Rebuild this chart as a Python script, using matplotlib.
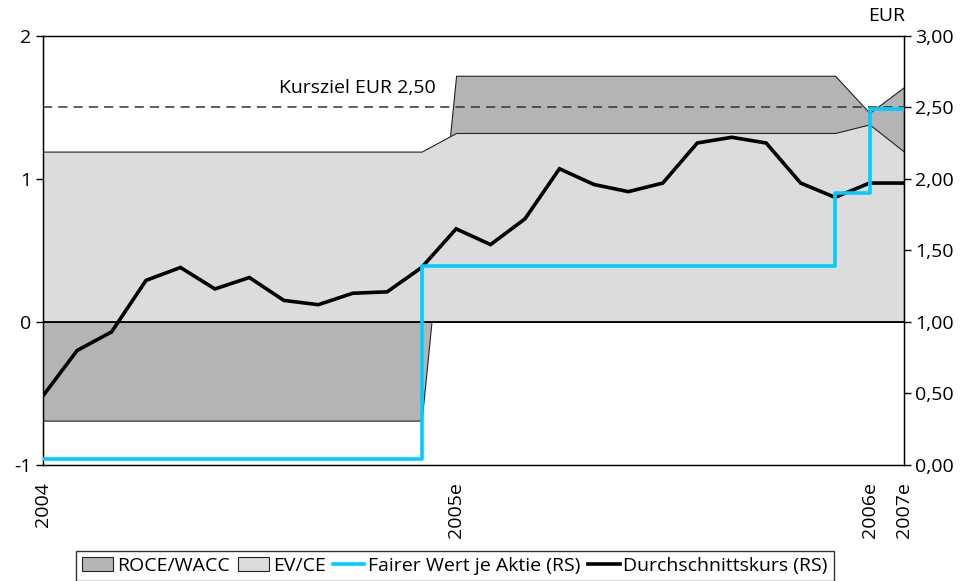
import numpy as np
import matplotlib
matplotlib.use("Agg")
import matplotlib.pyplot as plt
from matplotlib.patches import Patch
from matplotlib.lines import Line2D

plt.rcParams['font.family'] = ['Open Sans', 'DejaVu Sans']

# 26 categories: monthly 2004-2005, then yearly estimates
x_tick_pos = [0, 12, 24, 25]
x_tick_labels = ["2004", "2005e", "2006e", "2007e"]

# left scale
roce_wacc = [-0.69] * 12 + [1.72] * 12 + [1.46, 1.64]
ev_ce = [1.19] * 12 + [1.32] * 12 + [1.38, 1.19]

# right scale (EUR)
fairer_wert = [0.04] * 11 + [1.39] * 12 + [1.90, 2.49, 2.49]
kurs = [0.48, 0.80, 0.93, 1.29, 1.38, 1.23, 1.31, 1.15, 1.12, 1.20, 1.21, 1.38,
        1.65, 1.54, 1.72, 2.07, 1.96, 1.91, 1.97, 2.25, 2.29, 2.25, 1.97, 1.87,
        1.97, 1.97]
kursziel = 2.50

x = np.arange(len(kurs))
fs = 14

fig = plt.figure(figsize=(9.63, 5.81), dpi=100)
ax = fig.add_axes([0.0443, 0.1997, 0.8944, 0.7389])

dark = '#b4b4b4'
light = '#dcdcdc'
cyan = '#00ccff'

ax.fill_between(x, 0, roce_wacc, facecolor=dark, edgecolor='#222222', linewidth=0.8, zorder=1)
ax.fill_between(x, 0, ev_ce, facecolor=light, edgecolor='#222222', linewidth=0.8, zorder=2)
ax.axhline(0, color='black', linewidth=1.3, zorder=3)
ax.axhline(kursziel - 1, color='#333333', linewidth=1.1, linestyle=(0, (6, 4)), zorder=3)
ax.text(x[11] + 0.4, kursziel - 1 + 0.07, "Kursziel EUR 2,50", ha='right', va='bottom', fontsize=fs)

ax.set_xlim(0, 25)
ax.set_ylim(-1, 2)
ax.set_yticks([-1, 0, 1, 2])
ax.set_yticklabels(["-1", "0", "1", "2"])
ax.set_xticks(x_tick_pos)
ax.set_xticklabels(x_tick_labels, rotation=90, va='top', ha='center')
ax.tick_params(axis='x', length=0, pad=12, labelsize=fs)
ax.tick_params(axis='y', length=5, width=1, labelsize=fs, pad=3)
for s in ax.spines.values():
    s.set_linewidth(1)

ax2 = ax.twinx()
ax2.set_ylim(0, 3)
ax2.set_yticks(np.arange(0, 3.01, 0.5))
ax2.set_yticklabels([f"{v:.2f}".replace('.', ',') for v in np.arange(0, 3.01, 0.5)])
ax2.tick_params(axis='y', length=5, width=1, labelsize=fs, pad=3)
ax2.plot(x, kurs, color='black', linewidth=2.6, zorder=4, solid_joinstyle='miter')
ax2.plot(x, fairer_wert, color=cyan, linewidth=2.6, drawstyle='steps-post', zorder=5)
ax2.set_xlim(0, 25)
fig.text(0.921, 0.972, "EUR", ha='center', va='center', fontsize=fs)

handles = [
    Patch(facecolor=dark, edgecolor='#222222', linewidth=0.8, label='ROCE/WACC'),
    Patch(facecolor=light, edgecolor='#222222', linewidth=0.8, label='EV/CE'),
    Line2D([], [], color=cyan, linewidth=2.6, label='Fairer Wert je Aktie (RS)'),
    Line2D([], [], color='black', linewidth=2.6, label='Durchschnittskurs (RS)'),
]
leg = fig.legend(handles=handles, loc='upper center', bbox_to_anchor=(0.4725, 0.0516),
                 ncol=4, fontsize=fs, frameon=True, fancybox=False, handlelength=1.6,
                 handletextpad=0.2, columnspacing=0.4, borderpad=0.3, borderaxespad=0)
leg.get_frame().set_edgecolor('black')
leg.get_frame().set_linewidth(1)

fig.savefig("out.png", dpi=100)
